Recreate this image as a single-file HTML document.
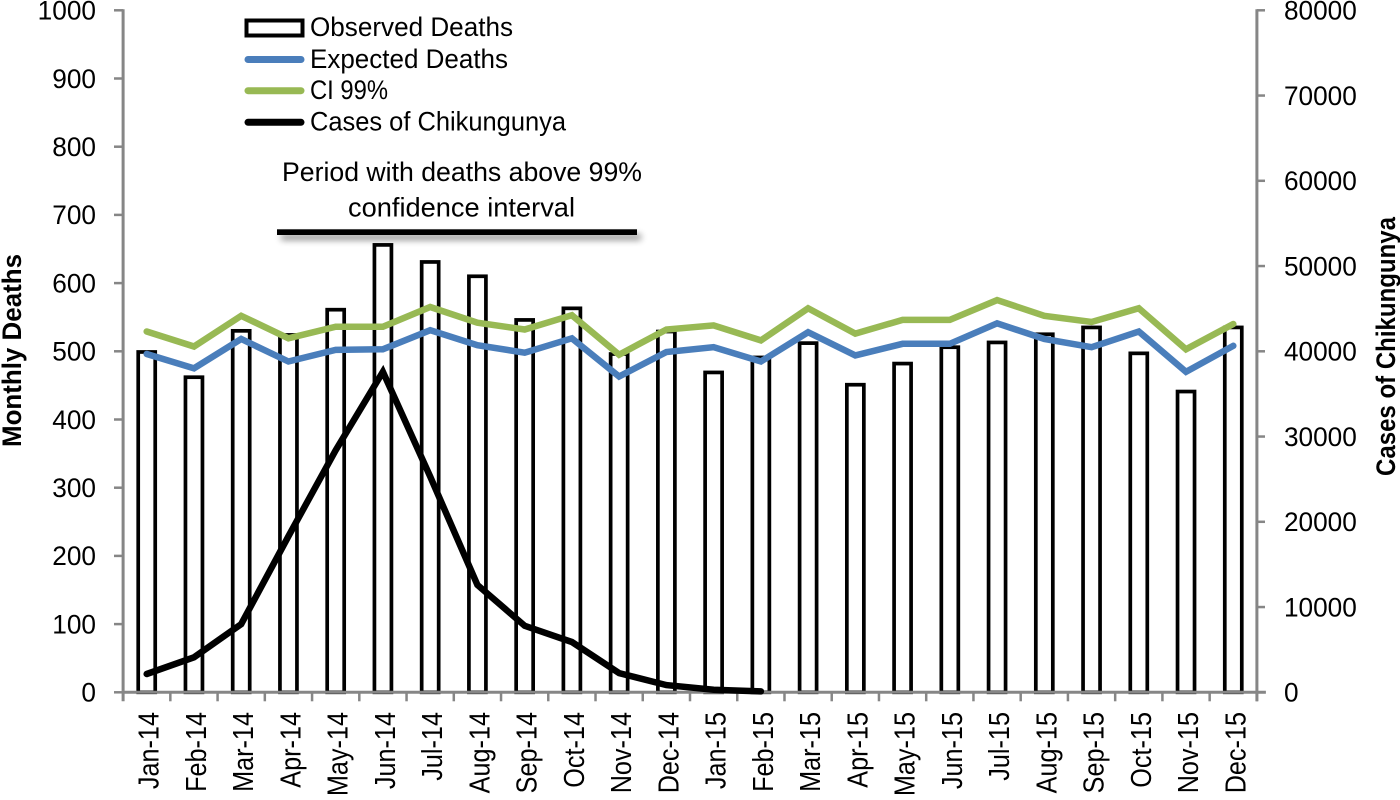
<!DOCTYPE html>
<html lang="en">
<head>
<meta charset="utf-8">
<title>Monthly deaths and cases of Chikungunya</title>
<style>
  html, body { margin: 0; padding: 0; background: #fff; }
  svg { display: block; font-family: "Liberation Sans", sans-serif; fill: #000; }
</style>
</head>
<body>
<svg id="chart" xmlns="http://www.w3.org/2000/svg" width="1400" height="800" viewBox="0 0 1400 800">
  <defs>
    <filter id="soft-shadow" x="-5%" y="-300%" width="110%" height="800%">
      <feGaussianBlur in="SourceAlpha" stdDeviation="3.5"/>
      <feOffset dx="4" dy="5"/>
      <feComponentTransfer><feFuncA type="linear" slope="0.45"/></feComponentTransfer>
      <feMerge><feMergeNode/><feMergeNode in="SourceGraphic"/></feMerge>
    </filter>
  </defs>
  <rect x="0" y="0" width="1400" height="800" fill="#fff"/>
  <g id="bars"></g>
  <g id="axes"></g>
  <g id="lines"></g>

  <g>
    <g>
      <rect x="246.5" y="20.5" width="56" height="15" fill="#fff" stroke="#000" stroke-width="4"/>
      <text x="310" y="36" font-size="27" textLength="203" lengthAdjust="spacingAndGlyphs">Observed Deaths</text>
    </g>
    <g>
      <line x1="248" y1="59.5" x2="301" y2="59.5" stroke="#4A7EBB" stroke-width="7" stroke-linecap="round"/>
      <text x="310" y="68" font-size="27" textLength="198" lengthAdjust="spacingAndGlyphs">Expected Deaths</text>
    </g>
    <g>
      <line x1="248" y1="90.7" x2="301" y2="90.7" stroke="#98B954" stroke-width="7" stroke-linecap="round"/>
      <text x="310" y="99" font-size="27" textLength="78" lengthAdjust="spacingAndGlyphs">CI 99%</text>
    </g>
    <g>
      <line x1="248" y1="122.3" x2="301" y2="122.3" stroke="#000" stroke-width="7" stroke-linecap="round"/>
      <text x="310" y="130.5" font-size="27" textLength="256" lengthAdjust="spacingAndGlyphs">Cases of Chikungunya</text>
    </g>
  </g>

  <g>
    <text x="282" y="181" font-size="27" textLength="360" lengthAdjust="spacingAndGlyphs">Period with deaths above 99%</text>
    <text x="348" y="216.5" font-size="27" textLength="227" lengthAdjust="spacingAndGlyphs">confidence interval</text>
    <rect x="277" y="229.3" width="360" height="5.7" fill="#000" filter="url(#soft-shadow)"/>
  </g>

  <text transform="translate(21,447) rotate(-90)" font-size="27" font-weight="bold" textLength="193" lengthAdjust="spacingAndGlyphs">Monthly Deaths</text>
  <text transform="translate(1395,476) rotate(-90)" font-size="27" font-weight="bold" textLength="259" lengthAdjust="spacingAndGlyphs">Cases of Chikungunya</text>
</svg>

<script>
const categories = ["Jan-14","Feb-14","Mar-14","Apr-14","May-14","Jun-14","Jul-14","Aug-14","Sep-14","Oct-14","Nov-14","Dec-14","Jan-15","Feb-15","Mar-15","Apr-15","May-15","Jun-15","Jul-15","Aug-15","Sep-15","Oct-15","Nov-15","Dec-15"];
const observedDeaths = [499,462,530,524,561,656,631,610,546,563,496,529,469,491,512,451,482,506,513,525,535,497,441,535];
const expectedDeaths = [496,475,518,485,502,503,531,509,498,519,463,499,506,485,528,494,511,511,541,518,506,529,470,508];
const ci99 = [529,507,552,519,536,536,565,542,532,553,495,532,538,516,563,526,546,546,575,552,543,563,503,540];
const chikungunyaCases = [2150,4100,8000,18300,28400,37600,25300,12600,7800,5900,2250,850,300,100];
const leftTicks = [0,100,200,300,400,500,600,700,800,900,1000];
const rightTicks = [0,10000,20000,30000,40000,50000,60000,70000,80000];

const NS = "http://www.w3.org/2000/svg";
const plot = { left: 123.1, right: 1256.9, top: 10.3, bottom: 692.3 };
const leftMax = 1000;
const rightMax = 80000;
const step = (plot.right - plot.left) / categories.length;

function xAt(i) { return plot.left + step * (i + 0.5); }
function yLeft(v) { return plot.bottom - (v / leftMax) * (plot.bottom - plot.top); }
function yRight(v) { return plot.bottom - (v / rightMax) * (plot.bottom - plot.top); }

function make(parent, tag, attrs) {
  const el = document.createElementNS(NS, tag);
  for (const k in attrs) el.setAttribute(k, attrs[k]);
  parent.appendChild(el);
  return el;
}

const barsG = document.getElementById("bars");
const axesG = document.getElementById("axes");
const linesG = document.getElementById("lines");
const AXIS = "#868686";

observedDeaths.forEach(function (v, i) {
  const w = 17;
  const bar = make(barsG, "rect", { x: xAt(i) - w / 2, y: yLeft(v), width: w, height: plot.bottom - yLeft(v), fill: "#fff", stroke: "#000", "stroke-width": 3.7 });
  
  
});

const leftAxis = make(axesG, "line", { x1: plot.left, y1: plot.top - 1, x2: plot.left, y2: plot.bottom + 9, stroke: AXIS, "stroke-width": 3 });



const rightAxis = make(axesG, "line", { x1: plot.right, y1: plot.top - 1, x2: plot.right, y2: plot.bottom + 9, stroke: AXIS, "stroke-width": 3 });



const xAxis = make(axesG, "line", { x1: plot.left, y1: plot.bottom, x2: plot.right + 9, y2: plot.bottom, stroke: AXIS, "stroke-width": 3 });



leftTicks.forEach(function (v) {
  const y = yLeft(v);
  const tick = make(axesG, "line", { x1: 114, y1: y, x2: plot.left, y2: y, stroke: AXIS, "stroke-width": 2.5 });
  
  
  const label = make(axesG, "text", { transform: "translate(96," + (y + 9.3) + ") scale(0.99,1)", "text-anchor": "end", "font-size": 26.5 });
  label.textContent = String(v);
  
  
});

rightTicks.forEach(function (v) {
  const y = yRight(v);
  const tick = make(axesG, "line", { x1: plot.right, y1: y, x2: 1265, y2: y, stroke: AXIS, "stroke-width": 2.5 });
  
  
  const label = make(axesG, "text", { transform: "translate(1284," + (y + 9.3) + ") scale(0.97,1)", "font-size": 27 });
  label.textContent = String(v);
  
  
});

categories.forEach(function (c, i) {
  const tx = plot.left + step * (i + 1);
  const tick = make(axesG, "line", { x1: tx, y1: plot.bottom, x2: tx, y2: plot.bottom + 9, stroke: AXIS, "stroke-width": 2.5 });
  
  
  const label = make(axesG, "text", { transform: "translate(" + (xAt(i) + 12) + ",712) rotate(-90) scale(0.87,1)", "text-anchor": "end", "font-size": 29 });
  label.textContent = c;
  
  
});

function drawLine(values, yFn, color, width) {
  const pts = values.map(function (v, i) { return xAt(i).toFixed(1) + "," + yFn(v).toFixed(1); }).join(" ");
  return make(linesG, "polyline", { points: pts, fill: "none", stroke: color, "stroke-width": width, "stroke-linecap": "round", "stroke-linejoin": "miter" });
}

const casesLine = drawLine(chikungunyaCases, yRight, "#000", 6.5);



const expectedLine = drawLine(expectedDeaths, yLeft, "#4A7EBB", 6.5);



const ciLine = drawLine(ci99, yLeft, "#98B954", 6.5);


</script>
</body>
</html>
